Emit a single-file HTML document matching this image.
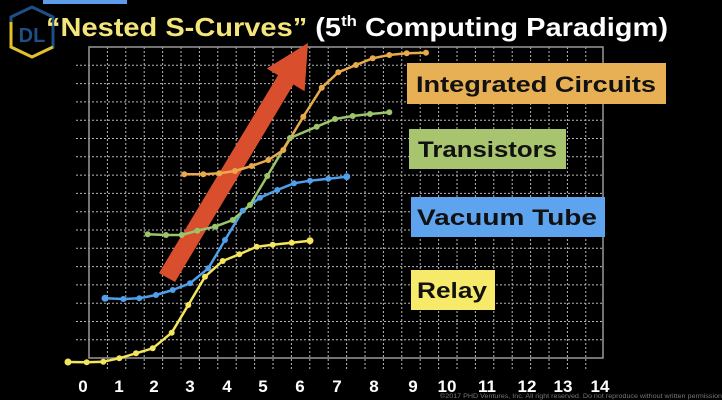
<!DOCTYPE html>
<html><head><style>html,body{margin:0;padding:0;background:#000;}svg{display:block}</style></head><body>
<svg width="722" height="400" viewBox="0 0 722 400" xmlns="http://www.w3.org/2000/svg">
<rect width="722" height="400" fill="#000"/>
<rect x="43" y="-2" width="84" height="6" fill="#5b9be8"/>
<g id="grid" stroke="#ccc" stroke-width="1" stroke-dasharray="2,2" opacity="0.9">
<path d="M76 65.3H603M76 83.6H603M76 101.9H603M76 120.2H603M76 138.5H603M76 156.8H603M76 175.1H603M76 193.4H603M76 211.7H603M76 230H603M76 248.3H603M76 266.6H603M76 284.9H603M76 303.2H603M76 321.5H603M76 339.8H603"/>
<path d="M107.4 47V371M125.8 47V371M144.2 47V371M162.6 47V371M181 47V371M199.4 47V371M217.8 47V371M236.2 47V371M254.6 47V371M273 47V371M291.4 47V371M309.8 47V371M328.2 47V371M346.6 47V371M365 47V371M383.4 47V371M401.8 47V371M420.2 47V371M438.6 47V371M457 47V371M475.4 47V371M493.8 47V371M512.2 47V371M530.6 47V371M549 47V371M567.4 47V371M585.8 47V371"/>
</g>
<rect x="89" y="47" width="514" height="311" fill="none" stroke="#999" stroke-width="1.5"/>
<polygon points="159,273 175,282 293.4,84.5 304.6,91.3 308,43 266.8,68.5 278,75.3" fill="#d94f2e"/>
<g fill="none" stroke-width="2.5" stroke-linejoin="round">
<polyline stroke="#f3e55e" points="68,362 86.7,362.3 103.3,361.7 119.3,358.3 136,353.3 152.7,348.3 171.7,332.7 188.3,305 205,276.7 222.7,261 239.3,254.3 256.7,246.7 272.7,244.7 291.7,242.7 310,240.7"/>
<polyline stroke="#4f9fec" points="105,298.3 123.3,299 139.3,298.3 156,295 172.7,290 190,283.3 208.3,268.3 225,240 242.7,210.7 260,197.7 277.3,190 294,183.3 310,180.7 328.3,178.7 346.7,176.7"/>
<polyline stroke="#9cc46a" points="147.7,234.3 166,235 181.7,235 197.3,230.7 215,226.7 232.7,220 250,205 267.3,176 290,138 316.7,126.7 335,119 352.7,116 370,114 389.3,112.3"/>
<polyline stroke="#eaaa4c" points="184.3,174.3 203.3,174.3 219.3,173.3 235,171 251.7,166 268.3,160 283.3,150 303.3,116.7 321.7,87.7 338.3,72.3 356,65 372.7,58.3 389.3,55 406.7,53.3 426,52.7"/>
</g>
<g fill="#f3e55e"><circle cx="68" cy="362" r="3.5"/><circle cx="86.7" cy="362.3" r="3"/><circle cx="103.3" cy="361.7" r="3"/><circle cx="119.3" cy="358.3" r="3"/><circle cx="136" cy="353.3" r="3"/><circle cx="152.7" cy="348.3" r="3"/><circle cx="171.7" cy="332.7" r="3"/><circle cx="188.3" cy="305" r="3"/><circle cx="205" cy="276.7" r="3"/><circle cx="222.7" cy="261" r="3"/><circle cx="239.3" cy="254.3" r="3"/><circle cx="256.7" cy="246.7" r="3"/><circle cx="272.7" cy="244.7" r="3"/><circle cx="291.7" cy="242.7" r="3"/><circle cx="310" cy="240.7" r="3.5"/></g>
<g fill="#4f9fec"><circle cx="105" cy="298.3" r="3.5"/><circle cx="123.3" cy="299" r="3"/><circle cx="139.3" cy="298.3" r="3"/><circle cx="156" cy="295" r="3"/><circle cx="172.7" cy="290" r="3"/><circle cx="190" cy="283.3" r="3"/><circle cx="208.3" cy="268.3" r="3"/><circle cx="225" cy="240" r="3"/><circle cx="242.7" cy="210.7" r="3"/><circle cx="260" cy="197.7" r="3"/><circle cx="277.3" cy="190" r="3"/><circle cx="294" cy="183.3" r="3"/><circle cx="310" cy="180.7" r="3"/><circle cx="328.3" cy="178.7" r="3"/><circle cx="346.7" cy="176.7" r="3.5"/></g>
<g fill="#9cc46a"><circle cx="147.7" cy="234.3" r="3"/><circle cx="166" cy="235" r="3"/><circle cx="181.7" cy="235" r="3"/><circle cx="197.3" cy="230.7" r="3"/><circle cx="215" cy="226.7" r="3"/><circle cx="232.7" cy="220" r="3"/><circle cx="250" cy="205" r="3"/><circle cx="267.3" cy="176" r="3"/><circle cx="290" cy="138" r="3"/><circle cx="316.7" cy="126.7" r="3"/><circle cx="335" cy="119" r="3"/><circle cx="352.7" cy="116" r="3"/><circle cx="370" cy="114" r="3"/><circle cx="389.3" cy="112.3" r="3"/></g>
<g fill="#eaaa4c"><circle cx="184.3" cy="174.3" r="3"/><circle cx="203.3" cy="174.3" r="3"/><circle cx="219.3" cy="173.3" r="3"/><circle cx="235" cy="171" r="3"/><circle cx="251.7" cy="166" r="3"/><circle cx="268.3" cy="160" r="3"/><circle cx="283.3" cy="150" r="3"/><circle cx="303.3" cy="116.7" r="3"/><circle cx="321.7" cy="87.7" r="3"/><circle cx="338.3" cy="72.3" r="3"/><circle cx="356" cy="65" r="3"/><circle cx="372.7" cy="58.3" r="3"/><circle cx="389.3" cy="55" r="3"/><circle cx="406.7" cy="53.3" r="3"/><circle cx="426" cy="52.7" r="3"/></g>
<g font-family="Liberation Sans, sans-serif" font-size="22" font-weight="bold" fill="#111">
<rect x="407" y="63" width="259" height="41" fill="#e8b054"/><text x="416" y="92" textLength="240" lengthAdjust="spacingAndGlyphs">Integrated Circuits</text>
<rect x="409" y="129" width="157" height="40" fill="#a8c46f"/><text x="418" y="157" textLength="139" lengthAdjust="spacingAndGlyphs">Transistors</text>
<rect x="411" y="197" width="194" height="40" fill="#5ea3ee"/><text x="417" y="225" textLength="180" lengthAdjust="spacingAndGlyphs">Vacuum Tube</text>
<rect x="411" y="270" width="84" height="40" fill="#f7ea6a"/><text x="417" y="298" textLength="70" lengthAdjust="spacingAndGlyphs">Relay</text>
</g>
<g font-family="Liberation Sans, sans-serif" font-size="17" font-weight="bold" fill="#fff" text-anchor="middle">
<text x="83" y="392">0</text><text x="119" y="392">1</text><text x="154" y="392">2</text><text x="190" y="392">3</text><text x="227" y="392">4</text><text x="263" y="392">5</text><text x="300" y="392">6</text><text x="337" y="392">7</text><text x="374" y="392">8</text><text x="413" y="392">9</text><text x="447" y="392">10</text><text x="487" y="392">11</text><text x="527" y="392">12</text><text x="563" y="392">13</text><text x="600" y="392">14</text>
</g>
<text x="440" y="398" font-family="Liberation Sans, sans-serif" font-size="6" fill="#777" textLength="282" lengthAdjust="spacingAndGlyphs">©2017 PHD Ventures, Inc. All right reserved. Do not reproduce without written permission</text>
<g>
<polygon points="32,7 53,17 53,47 32,57 11,47 11,17" fill="none" stroke="#1d4f86" stroke-width="3"/>
<polyline points="11,22 11,47 32,57 53,47" fill="none" stroke="#e3c02a" stroke-width="3"/>
<text x="32" y="42" font-family="Liberation Sans, sans-serif" font-size="20" font-weight="bold" fill="#1d4f86" text-anchor="middle">DL</text>
</g>
<text x="46" y="36" font-family="Liberation Sans, sans-serif" font-size="26" font-weight="bold" textLength="622" lengthAdjust="spacingAndGlyphs"><tspan fill="#f3e57a">“Nested S-Curves”</tspan><tspan fill="#fff"> (5</tspan><tspan fill="#fff" font-size="15" dy="-10">th</tspan><tspan fill="#fff" dy="10"> Computing Paradigm)</tspan></text>
</svg>
</body></html>
